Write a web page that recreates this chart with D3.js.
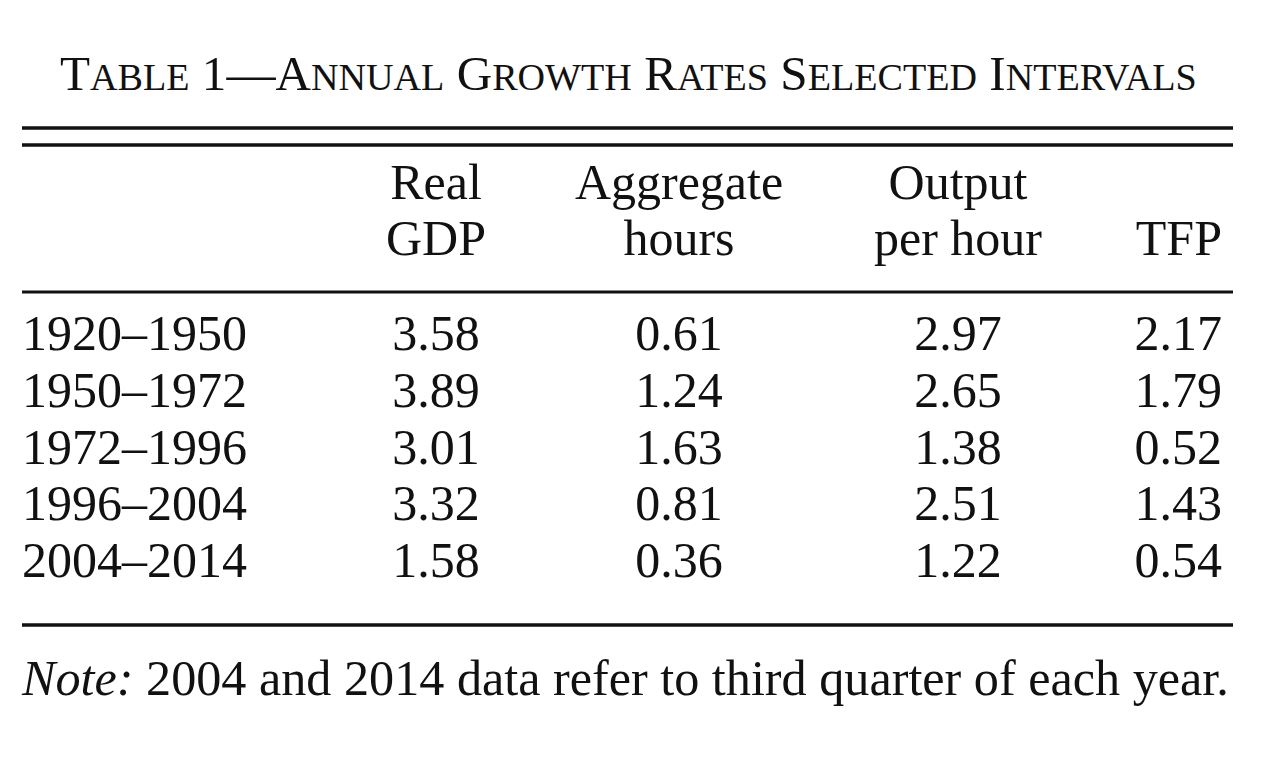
<!DOCTYPE html>
<html>
<head>
<meta charset="utf-8">
<script src="https://cdn.jsdelivr.net/npm/d3@7"></script>
<style>
  html, body { margin: 0; padding: 0; background: #fff; }
  svg { display: block; }
  text { font-family: "Liberation Serif", "DejaVu Serif", serif; fill: #111; }
</style>
</head>
<body>
<svg id="table"></svg>
<script>
// Table contents
const periods = ['1920–1950', '1950–1972', '1972–1996', '1996–2004', '2004–2014'];
const columns = ['gdp', 'hours', 'oph', 'tfp'];
const headLine1 = ['Real', 'Aggregate', 'Output', ''];
const headLine2 = ['GDP', 'hours', 'per hour', 'TFP'];

const realGDP = ['3.58', '3.89', '3.01', '3.32', '1.58'];
const aggHours = ['0.61', '1.24', '1.63', '0.81', '0.36'];
const outputPerHour = ['2.97', '2.65', '1.38', '2.51', '1.22'];
const tfp = ['2.17', '1.79', '0.52', '1.43', '0.54'];

const titleText = 'Table 1—Annual Growth Rates Selected Intervals';
const noteLabel = 'Note:';
const noteText = ' 2004 and 2014 data refer to third quarter of each year.';

// Canvas settings
const WIDTH = 1280;
const HEIGHT = 776;
const LEFT = 22, RIGHT = 1233;
const FONT = 50;

const svg = d3.select('svg#table').attr('width', WIDTH).attr('height', HEIGHT);

// Column anchors (centre for the first three, right edge for TFP)
const colX = d3.scaleOrdinal().domain(columns).range([436, 679, 958, 1222]);
const colAnchor = d3.scaleOrdinal().domain(columns).range(['middle', 'middle', 'middle', 'end']);

// Row baselines
const rowY = d3.scaleBand().domain(periods).range([322, 606]).paddingInner(0);

const values = {gdp: realGDP, hours: aggHours, oph: outputPerHour, tfp: tfp};

// Scale a text element's font sizes so it fills the given width
function fitWidth(sel, target) {
    const w = sel.node().getComputedTextLength();
    const k = target / w;
    sel.selectAll('tspan').each(function() {
        const t = d3.select(this);
        t.attr('font-size', +t.attr('font-size') * k);
    });
}

// Title, in small caps built from two sizes
const title = svg.append('text')
    .attr('x', 60)
    .attr('y', 90);

titleText.split(/([a-z]+)/).filter(s => s.length).forEach(part => {
    const lower = /^[a-z]+$/.test(part);
    title.append('tspan')
        .attr('font-size', lower ? 38 : 49)
        .text(part.toUpperCase());
});
fitWidth(title, 1137);

// Rules
const rules = [{y: 128, w: 3.5}, {y: 145, w: 3.5}, {y: 292, w: 3}, {y: 625, w: 3.5}];
svg.selectAll('line.rule').data(rules).join('line')
    .attr('class', 'rule')
    .attr('x1', LEFT).attr('x2', RIGHT)
    .attr('y1', d => d.y).attr('y2', d => d.y)
    .attr('stroke', '#111')
    .attr('stroke-width', d => d.w);

// Column headers
svg.selectAll('text.h1').data(columns).join('text')
    .attr('class', 'h1')
    .attr('x', d => colX(d))
    .attr('y', 199)
    .attr('text-anchor', d => colAnchor(d))
    .attr('font-size', FONT)
    .text((d, i) => headLine1[i]);

svg.selectAll('text.h2').data(columns).join('text')
    .attr('class', 'h2')
    .attr('x', d => colX(d))
    .attr('y', 255)
    .attr('text-anchor', d => colAnchor(d))
    .attr('font-size', FONT)
    .text((d, i) => headLine2[i]);

// Rows
const rows = svg.selectAll('g.row').data(periods).join('g')
    .attr('class', 'row')
    .attr('transform', d => `translate(0,${rowY(d) + 28})`);

rows.append('text')
    .attr('x', LEFT)
    .attr('font-size', FONT)
    .text(d => d);

columns.forEach(c => {
    rows.append('text')
        .attr('x', colX(c))
        .attr('text-anchor', colAnchor(c))
        .attr('font-size', FONT)
        .text((d, i) => values[c][i]);
});

// Note
const note = svg.append('text')
    .attr('x', LEFT)
    .attr('y', 695);
note.append('tspan').attr('font-style', 'italic').attr('font-size', FONT).text(noteLabel);
note.append('tspan').attr('font-size', FONT).text(noteText);
fitWidth(note, 1207);
</script>
</body>
</html>
